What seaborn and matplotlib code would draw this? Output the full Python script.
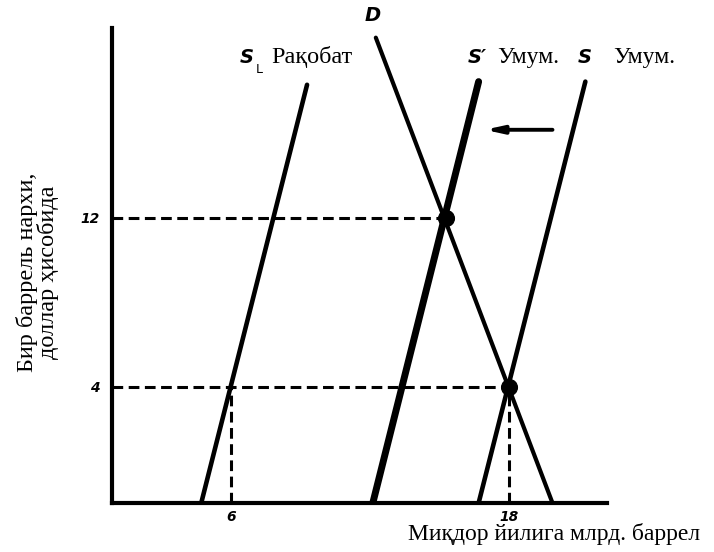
import matplotlib
matplotlib.use("Agg")
import matplotlib.pyplot as plt
import seaborn as sns

# ---- data ----
sl_q = [4.71, 9.28]        # S_L Рақобат
sl_p = [-1.49, 18.3]
s1_q = [12.12, 16.69]      # S' Умум.
s1_p = [-1.49, 18.45]
s_q = [16.69, 21.3]        # S Умум.
s_p = [-1.49, 18.45]
d_q = [12.25, 19.88]       # D
d_p = [20.53, -1.49]

eq_q = [15.27, 18.0]       # equilibrium points
eq_p = [12.0, 4.0]
comp_q = [6.0]             # competitive supply at price 4
comp_p = [4.0]

price_ticks = [4, 12]
qty_ticks = [6, 18]
arrow_q = [19.88, 16.95]
arrow_p = [16.17, 16.17]

sns.set_style("white")
serif = ["Liberation Serif", "DejaVu Serif"]
plt.rcParams["font.family"] = serif
plt.rcParams["text.color"] = "black"
plt.rcParams["xtick.color"] = "black"
plt.rcParams["ytick.color"] = "black"

fig = plt.figure(figsize=(7.14, 5.52), dpi=100)
ax = fig.add_axes([0.157, 0.0888, 0.693, 0.8606])
ymin, ymax = -1.49, 20.99
xmin, xmax = 0.86, 22.23

# guide dashed lines
dash = (0, (3.5, 1.8))
for q, p in zip(eq_q, eq_p):
    ax.plot([xmin, q], [p, p], color="black", lw=2.2, ls=dash, zorder=2)
ax.plot([comp_q[0], comp_q[0]], [ymin, comp_p[0]], color="black", lw=2.2, ls=dash, zorder=2)
ax.plot([eq_q[1], eq_q[1]], [ymin, eq_p[1]], color="black", lw=2.2, ls=dash, zorder=2)

# curves
sns.lineplot(x=sl_q, y=sl_p, ax=ax, color="black", lw=3.3, sort=False)
sns.lineplot(x=s1_q, y=s1_p, ax=ax, color="black", lw=5.0, sort=False)
sns.lineplot(x=s_q, y=s_p, ax=ax, color="black", lw=3.3, sort=False)
sns.lineplot(x=d_q, y=d_p, ax=ax, color="black", lw=3.0, sort=False)
for l in ax.lines:
    l.set_solid_capstyle("round")

sns.scatterplot(x=eq_q, y=eq_p, ax=ax, color="black", s=130, zorder=5, edgecolor="black")

# arrow
ax.annotate("", xy=(arrow_q[1], arrow_p[1]), xytext=(arrow_q[0], arrow_p[0]),
            arrowprops=dict(arrowstyle="-|>,head_length=1.0,head_width=0.22",
                            color="black", lw=2.8, shrinkA=0, shrinkB=0))

ax.set_xlim(xmin, xmax)
ax.set_ylim(ymin, ymax)
sns.despine(ax=ax)
for sp in ["left", "bottom"]:
    ax.spines[sp].set_linewidth(3.0)
    ax.spines[sp].set_color("black")

ax.set_xticks(qty_ticks)
ax.set_yticks(price_ticks)
ax.set_xticklabels([str(v) for v in qty_ticks])
ax.set_yticklabels([str(v) for v in price_ticks])
ax.tick_params(axis="y", length=3, width=1.5, color="black", pad=6)
ax.tick_params(axis="x", length=2, width=1.5, color="black", pad=3)
for t in ax.get_xticklabels() + ax.get_yticklabels():
    t.set_fontfamily(["DejaVu Sans"])
    t.set_fontweight("bold")
    t.set_fontstyle("italic")
    t.set_fontsize(10)
    t.set_color("black")

# labels on curves
bi = dict(fontfamily=["DejaVu Sans"], fontweight="bold", fontstyle="italic",
          fontsize=14, color="black", va="center", clip_on=False)
ax.text(6.35, 19.57, "S", ha="left", **bi)
ax.text(7.05, 19.0, "L", ha="left", fontsize=9, fontfamily=["DejaVu Sans"], va="center")
ax.text(7.75, 19.6, "Рақобат", ha="left", va="center", fontsize=17.5)
ax.text(12.1, 21.6, "D", ha="center", **bi)
ax.text(16.23, 19.57, "S′", ha="left", **bi)
ax.text(17.5, 19.6, "Умум.", ha="left", va="center", fontsize=17)
ax.text(20.98, 19.57, "S", ha="left", **bi)
ax.text(22.5, 19.6, "Умум.", ha="left", va="center", fontsize=17, clip_on=False)

fig.text(0.571, 0.0326, "Миқдор йилига млрд. баррел", fontsize=17, ha="left", va="center")
fig.text(0.052, 0.507, "Бир баррель нархи,\nдоллар ҳисобида", fontsize=17.5,
         rotation=90, ha="center", va="center", multialignment="center", linespacing=0.95)

fig.savefig("out.png", dpi=100)
